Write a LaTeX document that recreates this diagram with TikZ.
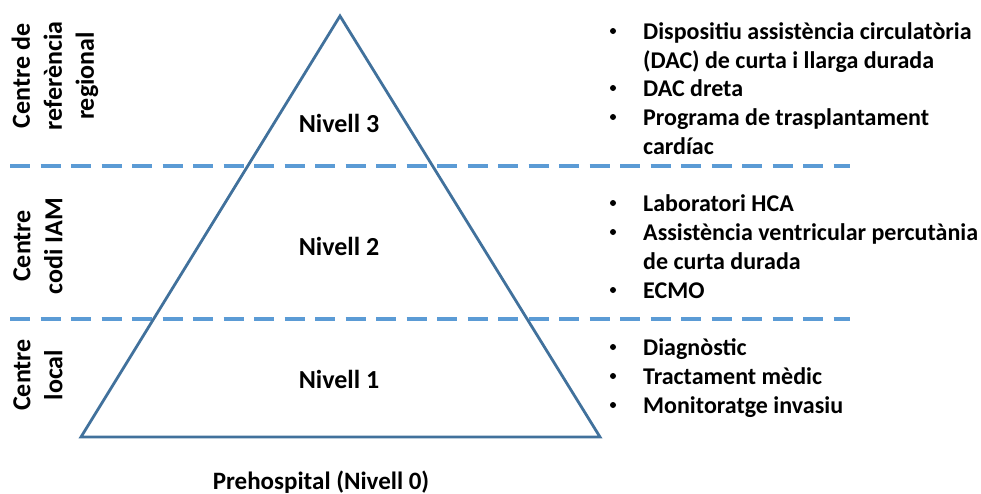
\documentclass[tikz,border=0pt]{standalone}
\usepackage{fontspec}
\setmainfont{Carlito}
\begin{document}
\begin{tikzpicture}[x=1pt,y=-1pt,
  lbl/.style={font=\bfseries\fontsize{24}{29}\selectfont, inner sep=0pt},
  lvl/.style={font=\bfseries\fontsize{26}{31}\selectfont, inner sep=0pt, anchor=base},
  itm/.style={lbl, anchor=base west},
  bul/.style={circle, fill=black, inner sep=0pt, minimum size=6pt},
  sidelbl/.style={font=\bfseries\fontsize{26}{32}\selectfont, rotate=90, align=center, inner sep=0pt},
  sep/.style={draw={rgb,255:red,91;green,155;blue,213}, line width=3.5pt, dash pattern=on 20pt off 10.5pt},
  tri/.style={draw={rgb,255:red,65;green,113;blue,156}, line width=2.8pt, line join=miter}]
\useasboundingbox (0,0) rectangle (981,493);
% separators
\coordinate (s1a) at (10,166); \coordinate (s1b) at (850,166);
\coordinate (s2a) at (10,319); \coordinate (s2b) at (850,319);
\draw[sep] (s1a) -- (s1b);
\draw[sep] (s2a) -- (s2b);
% triangle
\coordinate (apex) at (340,16);
\coordinate (bl) at (81,437);
\coordinate (br) at (600,437);
\draw[tri] (apex) -- (br) -- (bl) -- cycle;
% levels
\node[lvl] (n3) at (339,132) {Nivell 3};
\node[lvl] (n2) at (339,255) {Nivell 2};
\node[lvl] (n1) at (339,388) {Nivell 1};
\node[lbl, anchor=base, font=\bfseries\fontsize{25}{30}\selectfont] (n0) at (321,489) {Prehospital (Nivell 0)};
% side labels
\node[sidelbl] (c3) at (55,76) {Centre de\\referència\\regional};
\node[sidelbl] (c2) at (38,246) {Centre\\codi IAM};
\node[sidelbl] (c1) at (38,375) {Centre\\local};
% bullets block 3
\node[bul] (b31) at (613,31) {};
\node[itm] (t31) at (643,39) {Dispositiu assistència circulatòria};
\node[itm] (t31b) at (643,68) {(DAC) de curta i llarga durada};
\node[bul] (b32) at (613,88) {};
\node[itm] (t32) at (643,96) {DAC dreta};
\node[bul] (b33) at (613,117) {};
\node[itm] (t33) at (643,125) {Programa de trasplantament};
\node[itm] (t33b) at (643,154) {cardíac};
% block 2
\node[bul] (b21) at (613,203) {};
\node[itm] (t21) at (643,211) {Laboratori HCA};
\node[bul] (b22) at (613,232) {};
\node[itm] (t22) at (643,240) {Assistència ventricular percutània};
\node[itm] (t22b) at (643,269) {de curta durada};
\node[bul] (b23) at (613,290) {};
\node[itm] (t23) at (643,298) {ECMO};
% block 1
\node[bul] (b11) at (613,347) {};
\node[itm] (t11) at (643,355) {Diagnòstic};
\node[bul] (b12) at (613,376) {};
\node[itm] (t12) at (643,384) {Tractament mèdic};
\node[bul] (b13) at (613,405) {};
\node[itm] (t13) at (643,413) {Monitoratge invasiu};
\end{tikzpicture}
\end{document}
